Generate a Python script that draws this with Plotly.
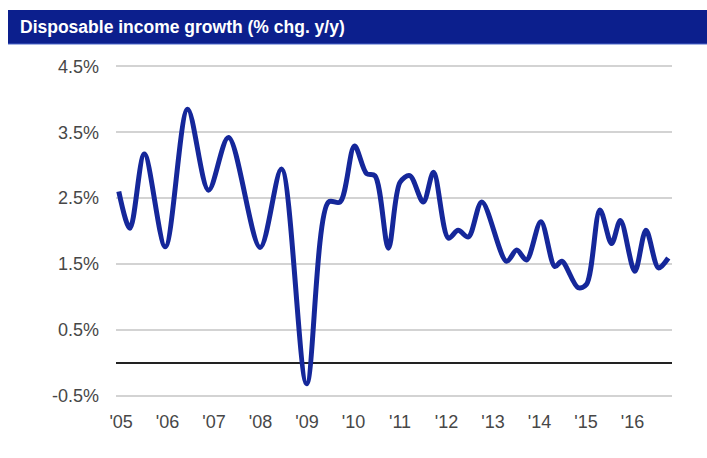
import plotly.graph_objects as go

# Data (decimal year, % chg. y/y)
years = [2004.95, 2005.19, 2005.50, 2005.95, 2006.43, 2006.88, 2007.31, 2007.99,
         2008.45, 2008.99, 2009.46, 2009.71, 2010.02, 2010.28, 2010.46, 2010.75,
         2011.00, 2011.21, 2011.50, 2011.72, 2012.04, 2012.25, 2012.47, 2012.76,
         2013.29, 2013.51, 2013.72, 2014.03, 2014.33, 2014.48, 2014.83, 2015.01,
         2015.30, 2015.55, 2015.74, 2016.05, 2016.29, 2016.56, 2016.77]
growth = [2.60, 2.04, 3.17, 1.76, 3.85, 2.62, 3.42, 1.75,
          2.94, -0.32, 2.44, 2.44, 3.29, 2.87, 2.84, 1.74,
          2.74, 2.84, 2.44, 2.89, 1.89, 2.01, 1.91, 2.44,
          1.54, 1.71, 1.56, 2.14, 1.46, 1.54, 1.14, 1.19,
          2.32, 1.81, 2.16, 1.39, 2.01, 1.44, 1.59]

year_ticks = list(range(2005, 2017))
year_labels = ["'%02d" % (y - 2000) for y in year_ticks]
y_ticks = [-0.5, 0.5, 1.5, 2.5, 3.5, 4.5]
y_labels = ["%.1f%%" % v for v in y_ticks]

title_text = "Disposable income growth (% chg. y/y)"

W, H = 707, 458
L, R, T, B = 116, 35, 65, 61
pw, ph = W - L - R, H - T - B

def px_to_paper_x(p):
    return (p - L) / pw

def px_to_paper_y(p):
    return (H - B - p) / ph

fig = go.Figure()
fig.add_trace(go.Scatter(
    x=years, y=growth, mode="lines",
    line=dict(color="#15279a", width=5, shape="spline", smoothing=0.9),
    hoverinfo="skip", showlegend=False,
))

fig.add_shape(type="rect", xref="paper", yref="paper",
              x0=px_to_paper_x(8), x1=px_to_paper_x(707),
              y0=px_to_paper_y(44), y1=px_to_paper_y(10),
              fillcolor="#0c1f8d", line=dict(width=0), layer="above")
fig.add_shape(type="line", xref="paper", yref="paper",
              x0=px_to_paper_x(8), x1=px_to_paper_x(707),
              y0=px_to_paper_y(44), y1=px_to_paper_y(44),
              line=dict(color="#4a66c8", width=1), layer="above")

fig.add_annotation(text="<b>" + title_text + "</b>", xref="paper", yref="paper",
                   x=px_to_paper_x(18), y=px_to_paper_y(27),
                   xanchor="left", yanchor="middle", showarrow=False,
                   font=dict(family="Liberation Sans, Arial", size=17.5, color="white"))

tick_font = dict(family="Liberation Sans, Arial", size=18, color="#474747")

fig.update_layout(
    width=W, height=H,
    margin=dict(l=L, r=R, t=T, b=B),
    paper_bgcolor="white", plot_bgcolor="white",
    xaxis=dict(range=[2004.89, 2016.85], tickvals=year_ticks, ticktext=year_labels,
               showgrid=False, zeroline=False, showline=False, ticks="",
               ticklabelstandoff=12, tickfont=tick_font),
    yaxis=dict(range=[-0.52, 4.52], tickvals=y_ticks, ticktext=y_labels,
               showgrid=True, gridcolor="#d3d3d3", gridwidth=1.5,
               zeroline=True, zerolinecolor="#222222", zerolinewidth=2,
               showline=False, ticks="", ticklabelstandoff=16, tickfont=tick_font),
)

fig.write_html("out.html")
